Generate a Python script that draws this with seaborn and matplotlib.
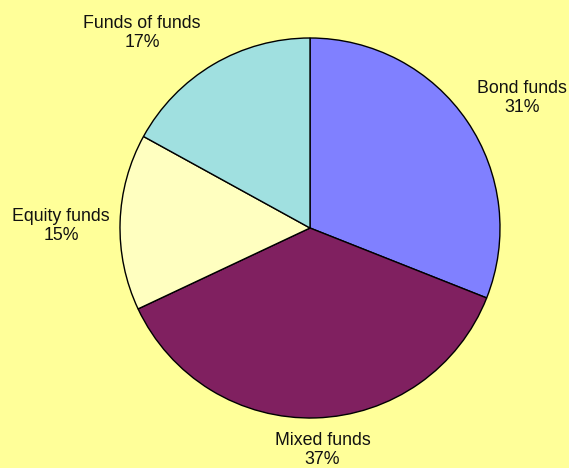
import matplotlib
matplotlib.use("Agg")
import matplotlib.pyplot as plt
import seaborn as sns

sns.set_theme(style="white")
plt.rcParams['font.family'] = ['Liberation Sans', 'DejaVu Sans']

# fund categories, clockwise from 12 o'clock
categories = ["Bond funds", "Mixed funds", "Equity funds", "Funds of funds"]
shares = [31, 37, 15, 17]
colors = ["#8080FF", "#802060", "#FFFFC0", "#A0E0E0"]

# label anchors in pie-radius units (layout only)
label_pos = [(1.114, 0.684), (0.066, -1.168), (-1.31, 0.011), (-0.884, 1.026)]

fig = plt.figure(figsize=(5.69, 4.68), dpi=100, facecolor="#FFFF99")
ax = fig.add_axes([0, 0, 1, 1])
ax.set_facecolor("#FFFF99")

wedges, _ = ax.pie(shares, colors=colors, startangle=90, counterclock=False,
                   radius=1.0, wedgeprops=dict(edgecolor="black", linewidth=1.0))

for name, val, (x, y) in zip(categories, shares, label_pos):
    ax.text(x, y, f"{name}\n{val}%", ha="center", va="center",
            fontsize=12.8, color="#111111", linespacing=1.16)

ax.set_aspect("auto")
ax.set_xlim(-310 / 190, (569 - 310) / 190)
ax.set_ylim(-(468 - 228) / 190, 228 / 190)
ax.axis("off")

fig.savefig("out.png", dpi=100, facecolor=fig.get_facecolor())
